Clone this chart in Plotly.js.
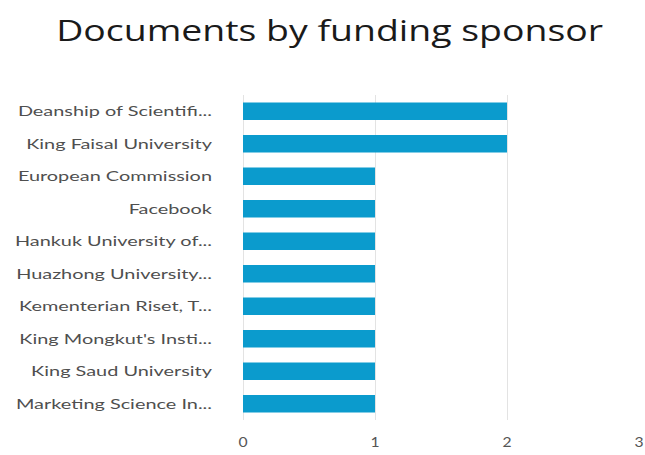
<!DOCTYPE html>
<html>
<head>
<meta charset="utf-8">
<script src="https://cdn.plot.ly/plotly-3.0.1.min.js"></script>
<style>html,body{margin:0;padding:0;background:#fff}#chart{width:645px;height:455px}</style>
</head>
<body>
<div id="chart"></div>
<script>
var sponsors = [
  "Deanship of Scientifi...",
  "King Faisal University",
  "European Commission",
  "Facebook",
  "Hankuk University of...",
  "Huazhong University...",
  "Kementerian Riset, T...",
  "King Mongkut's Insti...",
  "King Saud University",
  "Marketing Science In..."
];
var documents = [2, 2, 1, 1, 1, 1, 1, 1, 1, 1];
var xTicks = [0, 1, 2, 3];

// horizontal widening of text to imitate the reference's wide typeface
function widen(sel, k) {
  document.querySelectorAll(sel).forEach(function (t) {
    var w = t.getComputedTextLength();
    if (w > 0) {
      t.setAttribute('textLength', (w * k).toFixed(1));
      t.setAttribute('lengthAdjust', 'spacingAndGlyphs');
    }
  });
}

Plotly.newPlot('chart', [{
  type: 'bar',
  orientation: 'h',
  y: sponsors,
  x: documents,
  marker: {color: '#0b9bcd'},
  hoverinfo: 'x+y'
}], {
  width: 645, height: 455,
  margin: {l: 243, r: 6, t: 95, b: 35},
  paper_bgcolor: '#fff', plot_bgcolor: '#fff',
  title: {text: 'Documents by funding sponsor', x: 0.511, xanchor: 'center', y: 0.932, yanchor: 'middle',
          font: {family: 'Open Sans, sans-serif', size: 29, color: '#1a1a1a'}},
  bargap: 0.46,
  xaxis: {range: [0, 3], tickvals: xTicks, showgrid: true, gridcolor: '#e3e3e3', gridwidth: 1,
          zeroline: true, zerolinecolor: '#e3e3e3', zerolinewidth: 1, showline: false,
          ticklabeloverflow: 'allow',
          tickfont: {family: 'Lato, sans-serif', size: 13, color: '#555'}, ticks: '', ticklabelstandoff: 13},
  yaxis: {autorange: 'reversed', showgrid: false, zeroline: false, showline: false, ticks: '',
          ticklabelstandoff: 30, tickfont: {family: 'Lato, sans-serif', size: 14, color: '#4f4f4f'}},
  showlegend: false
}, {displayModeBar: false, staticPlot: true}).then(function () {
  widen('#chart .gtitle', 1.29);
  widen('#chart .ytick text', 1.42);
  widen('#chart .xtick text', 1.2);
});
</script>
</body>
</html>
